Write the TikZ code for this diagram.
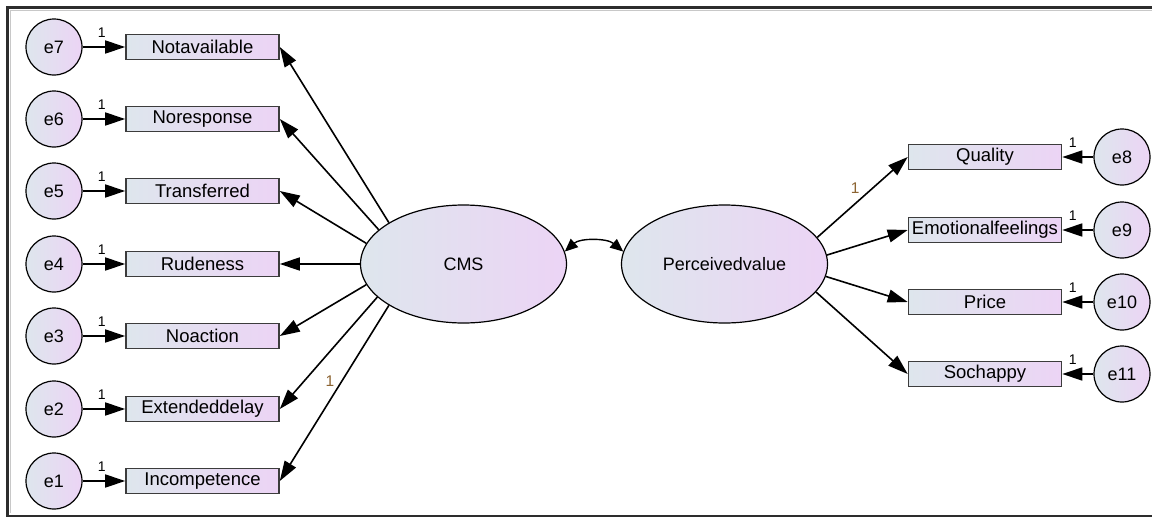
\documentclass[tikz,border=0pt]{standalone}
\usepackage{fontspec}
\setmainfont{Liberation Sans}
\usetikzlibrary{arrows.meta,shapes.geometric}
\definecolor{fillA}{RGB}{222,230,237}
\definecolor{fillB}{RGB}{236,212,245}
\definecolor{boxline}{RGB}{60,60,60}
\definecolor{framedark}{RGB}{45,45,45}
\definecolor{frameshade}{RGB}{200,200,200}
\definecolor{weightcol}{RGB}{140,100,50}
\begin{document}
\begin{tikzpicture}[x=1pt,y=-1pt,
  obs/.style={draw=boxline, line width=1.6pt, left color=fillA, right color=fillB,
    minimum width=153pt, minimum height=25pt, inner sep=0pt,
    font=\fontsize{18.5}{21}\selectfont},
  err/.style={circle, draw=black, line width=1.2pt, left color=fillA, right color=fillB,
    minimum size=56pt, inner sep=0pt, font=\fontsize{18}{21}\selectfont},
  lat/.style={ellipse, draw=black, line width=1.2pt, left color=fillA, right color=fillB,
    minimum width=206pt, minimum height=118pt, inner sep=0pt,
    font=\fontsize{18}{21}\selectfont},
  regpath/.style={-{Triangle[length=20pt,width=13pt]}, line width=1.6pt},
  covpath/.style={{Triangle[length=13pt,width=11pt]}-{Triangle[length=13pt,width=11pt]}, line width=1.4pt},
  unit/.style={inner sep=0pt, font=\fontsize{14}{15}\selectfont},
  wlabel/.style={inner sep=0pt, font=\fontsize{15.5}{16}\selectfont, text=weightcol}
]
\useasboundingbox (0,0) rectangle (1152,520);
% window frame (open on the right)
\draw[frameshade, line width=1pt] (1152,10.5) -- (10.5,10.5) -- (10.5,513);
\draw[framedark, line width=2.5pt] (1152,7.5) -- (7.5,7.5) -- (7.5,516) -- (1152,516);

% latent variables
\node[lat] (cms) at (463.5,264) {CMS};
\node[lat] (pv) at (724.5,264) {Perceivedvalue};

% left indicators and their error terms
\foreach \i/\name/\yy in {7/Notavailable/47, 6/Noresponse/119, 5/Transferred/191,
                          4/Rudeness/264, 3/Noaction/336, 2/Extendeddelay/409,
                          1/Incompetence/481}{
  \node[obs] (b\i) at (202.5,\yy) {\name};
  \node[err] (e\i) at (54,\yy) {e\i};
  \draw[regpath] (e\i) -- node[unit, pos=0.45, above=9pt] {1} (b\i);
}

% right indicators and their error terms
\foreach \i/\name/\yy in {8/Quality/157, 9/Emotionalfeelings/230, 10/Price/302, 11/Sochappy/374}{
  \node[obs] (b\i) at (985,\yy) {\name};
  \node[err] (e\i) at (1122,\yy) {e\i};
  \draw[regpath] (e\i) -- node[unit, pos=0.66, above=9pt] {1} (b\i);
}

% loadings of CMS
\draw[regpath] (cms.151) -- (b7.east);
\draw[regpath] (cms.158) -- (b6.east);
\draw[regpath] (cms.168) -- (b5.east);
\draw[regpath] (cms.180) -- (b4.east);
\draw[regpath] (cms.192) -- (b3.east);
\draw[regpath] (cms.201) -- (b2.east);
\draw[regpath] (cms.209.5) -- node[wlabel, pos=0.43, left=7pt] {1} (b1.east);

% loadings of Perceivedvalue
\draw[regpath] (pv.16.4) -- node[wlabel, pos=0.42, above=9pt] {1} (b8.west);
\draw[regpath] (pv.5) -- (b9.west);
\draw[regpath] (pv.-7.3) -- (b10.west);
\draw[regpath] (pv.-17.5) -- (b11.west);

% covariance
\draw[covpath] (cms.7) .. controls (580,238) and (607,238) .. (pv.173);
\end{tikzpicture}
\end{document}
